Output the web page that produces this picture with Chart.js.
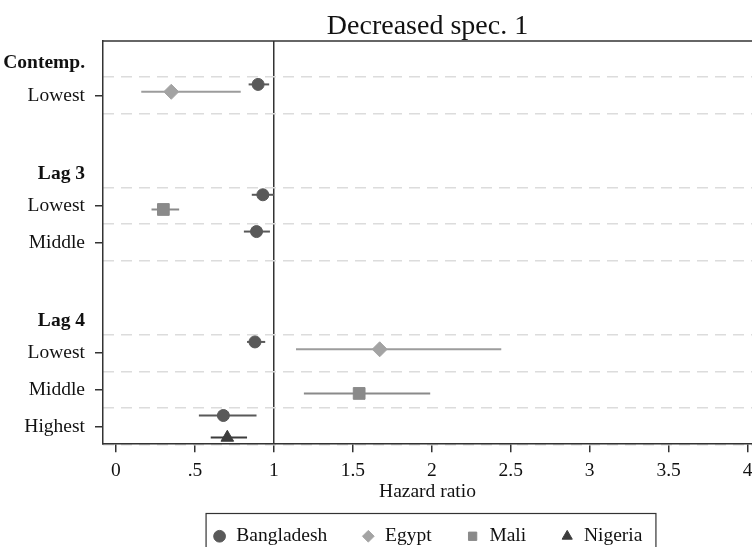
<!DOCTYPE html>
<html>
<head>
<meta charset="utf-8">
<script src="https://cdn.jsdelivr.net/npm/chart.js@4/dist/chart.umd.min.js"></script>
<style>
  html, body { margin: 0; padding: 0; background: #fff; overflow: hidden; }
  #wrap { width: 752px; height: 556px; position: relative; }
</style>
</head>
<body>
<div id="wrap"><canvas id="chart"></canvas></div>
<script>
// rows from top to bottom, '' = empty spacer row
const rowLabels = ['Contemp.', 'Lowest', '', 'Lag 3', 'Lowest', 'Middle', '', 'Lag 4', 'Lowest', 'Middle', 'Highest'];
const headerRows = ['Contemp.', 'Lag 3', 'Lag 4'];

const xTicks = [0, 0.5, 1, 1.5, 2, 2.5, 3, 3.5, 4];
const xTickLabels = ['0', '.5', '1', '1.5', '2', '2.5', '3', '3.5', '4'];

const countries = ['Bangladesh', 'Egypt', 'Mali', 'Nigeria'];

// hazard ratios and 95% CI, one entry per row
const bangladeshHR = [null, 0.90, null, null, 0.93, 0.89, null, null, 0.88, null, 0.68];
const bangladeshLo = [null, 0.84, null, null, 0.86, 0.81, null, null, 0.83, null, 0.525];
const bangladeshHi = [null, 0.97, null, null, 1.00, 0.975, null, null, 0.945, null, 0.89];

const egyptHR = [null, 0.35, null, null, null, null, null, null, 1.67, null, null];
const egyptLo = [null, 0.16, null, null, null, null, null, null, 1.14, null, null];
const egyptHi = [null, 0.79, null, null, null, null, null, null, 2.44, null, null];

const maliHR = [null, null, null, null, 0.30, null, null, null, null, 1.54, null];
const maliLo = [null, null, null, null, 0.225, null, null, null, null, 1.19, null];
const maliHi = [null, null, null, null, 0.40, null, null, null, null, 1.99, null];

const nigeriaHR = [null, null, null, null, null, null, null, null, null, null, 0.705];
const nigeriaLo = [null, null, null, null, null, null, null, null, null, null, 0.60];
const nigeriaHi = [null, null, null, null, null, null, null, null, null, null, 0.83];

const serif = "'Liberation Serif', 'DejaVu Serif', serif";

function makePoints(hr, lo, hi, offset) {
    var pts = [];
    for (var i = 0; i < hr.length; i++) {
        if (hr[i] === null) continue;
        pts.push({ x: hr[i], y: i + offset, lo: lo[i], hi: hi[i] });
    }
    return pts;
}

function isHeader(i) { return headerRows.indexOf(rowLabels[i]) >= 0; }

// halfway lines around every item row
var gridRows = [];
rowLabels.forEach(function (l, i) {
    if (l === '' || isHeader(i)) return;
    if (gridRows.indexOf(i - 0.5) < 0) gridRows.push(i - 0.5);
    gridRows.push(i + 0.5);
});

// confidence interval lines, drawn under the markers
const ciPlugin = {
    id: 'ciLines',
    beforeDatasetsDraw(chart) {
        const ctx = chart.ctx, x = chart.scales.x, y = chart.scales.y;
        chart.data.datasets.forEach(function (ds) {
            ctx.save();
            ctx.strokeStyle = ds.ciColor;
            ctx.lineWidth = 2;
            ds.data.forEach(function (p) {
                var py = y.getPixelForValue(p.y);
                ctx.beginPath();
                ctx.moveTo(x.getPixelForValue(p.lo), py);
                ctx.lineTo(x.getPixelForValue(p.hi), py);
                ctx.stroke();
            });
            ctx.restore();
        });
    }
};

// top frame line + box around the legend
const framePlugin = {
    id: 'frame',
    afterDraw(chart) {
        const ctx = chart.ctx, a = chart.chartArea;
        ctx.save();
        ctx.strokeStyle = '#333';
        ctx.lineWidth = 1.5;
        ctx.beginPath();
        ctx.moveTo(a.left, a.top);
        ctx.lineTo(a.right, a.top);
        ctx.stroke();

        var hb = chart.legend.legendHitBoxes;
        if (hb && hb.length) {
            var l = Math.min.apply(null, hb.map(function (h) { return h.left; }));
            var r = Math.max.apply(null, hb.map(function (h) { return h.left + h.width; }));
            var t = Math.min.apply(null, hb.map(function (h) { return h.top; }));
            ctx.lineWidth = 1.2;
            ctx.strokeRect(l - 6.5, t - 13, (r - l) + 20, 60);
        }
        ctx.restore();
    }
};

const chart = new Chart(document.getElementById('chart'), {
    type: 'scatter',
    data: {
        datasets: [
            {
                label: countries[0],
                data: makePoints(bangladeshHR, bangladeshLo, bangladeshHi, -0.3),
                pointStyle: 'circle', pointRadius: 6,
                backgroundColor: '#595959', borderColor: '#595959', ciColor: '#595959'
            },
            {
                label: countries[1],
                data: makePoints(egyptHR, egyptLo, egyptHi, -0.1),
                pointStyle: 'rectRot', pointRadius: 7.5,
                backgroundColor: '#a3a3a3', borderColor: '#a3a3a3', ciColor: '#9c9c9c'
            },
            {
                label: countries[2],
                data: makePoints(maliHR, maliLo, maliHi, 0.1),
                pointStyle: 'rect', pointRadius: 8.3,
                backgroundColor: '#8a8a8a', borderColor: '#8a8a8a', ciColor: '#8a8a8a'
            },
            {
                label: countries[3],
                data: makePoints(nigeriaHR, nigeriaLo, nigeriaHi, 0.3),
                pointStyle: 'triangle', pointRadius: 7.3,
                backgroundColor: '#3c3c3c', borderColor: '#3c3c3c', ciColor: '#3c3c3c'
            }
        ]
    },
    options: {
        responsive: true,
        maintainAspectRatio: false,
        animation: false,
        layout: { padding: 0, autoPadding: false },
        scales: {
            x: {
                type: 'linear',
                min: -0.0823,
                max: 4.028,
                afterBuildTicks: function (s) { s.ticks = xTicks.map(function (v) { return { value: v }; }); },
                afterFit: function (s) { s.paddingLeft = 0; s.paddingRight = 0; },
                ticks: {
                    color: '#111',
                    font: { family: serif, size: 19.5 },
                    padding: 7,
                    maxRotation: 0,
                    autoSkip: false,
                    callback: function (v, i) { return xTickLabels[i]; }
                },
                grid: {
                    color: function (c) { return c.tick && c.tick.value === 1 ? '#333' : 'rgba(0,0,0,0)'; },
                    lineWidth: 1.5,
                    tickColor: '#333',
                    tickLength: 8
                },
                border: { color: '#333', width: 1.5 },
                title: {
                    display: true,
                    text: 'Hazard ratio',
                    color: '#111',
                    font: { family: serif, size: 19.5 },
                    padding: { top: -9, bottom: -11.5 }
                }
            },
            y: {
                type: 'linear',
                reverse: true,
                min: -0.48,
                max: 10.48,
                // group headings sit a little below their row
                afterBuildTicks: function (s) {
                    s.ticks = rowLabels.map(function (l, i) { return { value: isHeader(i) ? i + 0.13 : i }; })
                        .filter(function (t) { return rowLabels[Math.round(t.value)] !== ''; });
                },
                afterFit: function (s) { s.width = 103; },
                ticks: {
                    color: '#111',
                    autoSkip: false,
                    padding: 10,
                    font: function (c) {
                        var bold = c.tick && isHeader(Math.round(c.tick.value));
                        return { family: serif, size: 19.5, weight: bold ? 'bold' : 'normal' };
                    },
                    callback: function (v) { return rowLabels[Math.round(v)]; }
                },
                grid: {
                    drawOnChartArea: false,
                    tickLength: 8,
                    lineWidth: 1.5,
                    tickColor: function (c) {
                        return c.tick && isHeader(Math.round(c.tick.value)) ? 'rgba(0,0,0,0)' : '#333';
                    }
                },
                border: { color: '#333', width: 1.5 }
            },
            yg: {
                type: 'linear',
                position: 'right',
                reverse: true,
                min: -0.48,
                max: 10.48,
                afterBuildTicks: function (s) { s.ticks = gridRows.map(function (v) { return { value: v }; }); },
                afterFit: function (s) { s.width = 0; },
                ticks: { display: false },
                grid: { color: '#dcdcdc', lineWidth: 1.5, drawTicks: false },
                border: { display: false, dash: [11, 7] }
            }
        },
        plugins: {
            title: {
                display: true,
                text: 'Decreased spec. 1',
                color: '#111',
                fullSize: false,
                font: { family: serif, size: 28, weight: 'normal' },
                padding: { top: 10, bottom: -2.6 }
            },
            legend: {
                position: 'bottom',
                fullSize: false,
                labels: {
                    usePointStyle: true,
                    boxWidth: 14,
                    boxHeight: 8.3,
                    padding: 34,
                    color: '#111',
                    font: { family: serif, size: 19.5 }
                }
            },
            tooltip: { enabled: false }
        }
    },
    plugins: [ciPlugin, framePlugin]
});
</script>
</body>
</html>
